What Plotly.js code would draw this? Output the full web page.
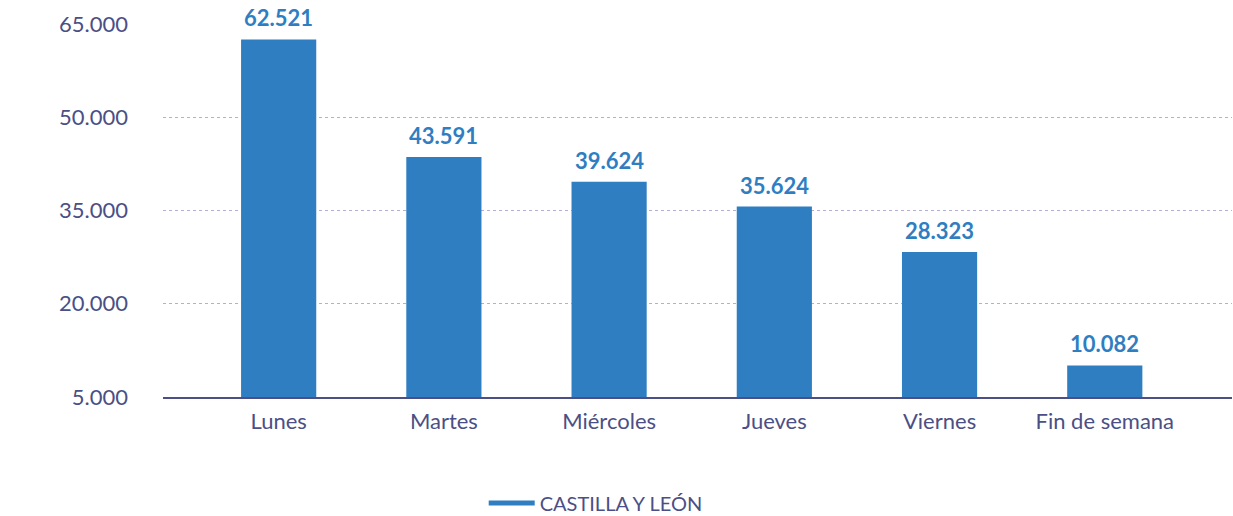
<!DOCTYPE html>
<html>
<head>
<meta charset="utf-8">
<script src="https://cdn.plot.ly/plotly-3.0.1.min.js"></script>
<style>
body{margin:0;padding:0;background:#fff;}
#myPlot{width:1233px;height:516px;}
</style>
</head>
<body>
<div id="myPlot"></div>
<script>
///data
var dias = ['Lunes','Martes','Miércoles','Jueves','Viernes','Fin de semana'];
var valores = [62521, 43591, 39624, 35624, 28323, 10082];
var etiquetas = ['62.521','43.591','39.624','35.624','28.323','10.082'];
var yTicks = [5000, 20000, 35000, 50000, 65000];
var serie = 'CASTILLA Y LEÓN';

var azul = '#2f7ec1';
var texto = '#4b4f86';

var trace1 = {
  x: dias,
  y: valores,
  type: 'bar',
  width: 0.455,
  marker: {color: azul},
  showlegend: false,
  hoverinfo: 'skip'
};
///dummy trace only for the line symbol in the legend
var trace2 = {
  x: [null],
  y: [null],
  type: 'scatter',
  mode: 'lines',
  name: serie,
  line: {color: azul, width: 5}
};

var notas = [];
for (var i = 0; i < dias.length; i++) {
  notas.push({
    x: dias[i], y: valores[i], text: etiquetas[i],
    showarrow: false, yanchor: 'bottom', yshift: 6,
    font: {family: 'Lato', size: 22, color: azul, weight: 'bold'}
  });
}

var layout = {
  width: 1233, height: 516,
  margin: {l: 163, r: 1, t: 24, b: 119, autoexpand: false},
  paper_bgcolor: '#fff', plot_bgcolor: '#fff',
  separators: ',.',
  font: {family: 'Lato', size: 22, color: texto},
  xaxis: {
    range: [-0.7, 5.77],
    showgrid: false,
    showline: true, linecolor: texto, linewidth: 1.5,
    ticks: '', ticklabelstandoff: 4,
    tickfont: {size: 22, color: texto}
  },
  yaxis: {
    range: [5000, 65000],
    tickvals: yTicks,
    tickformat: ',d',
    showgrid: true, gridcolor: '#b3aed8', griddash: 'dot', gridwidth: 1,
    zeroline: false, showline: false,
    ticks: '', ticklabelstandoff: 34,
    tickfont: {size: 22, color: texto}
  },
  showlegend: true,
  legend: {
    orientation: 'h', x: 0.3, xref: 'paper', xanchor: 'left',
    yref: 'container', y: 0.025, yanchor: 'middle',
    itemwidth: 46,
    font: {size: 20, color: texto}
  },
  annotations: notas
};

Plotly.newPlot('myPlot', [trace1, trace2], layout, {displayModeBar: false, staticPlot: true});
</script>
</body>
</html>
